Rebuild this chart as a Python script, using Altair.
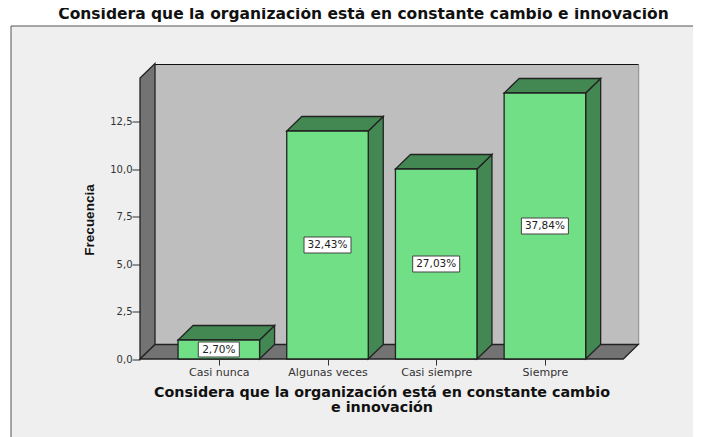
import altair as alt
import pandas as pd

categories = ["Casi nunca", "Algunas veces", "Casi siempre", "Siempre"]
frequencies = [1, 12, 10, 14]
percent_labels = ["2,70%", "32,43%", "27,03%", "37,84%"]
y_ticks = [0, 2.5, 5, 7.5, 10, 12.5]

TITLE = "Considera que la organización está en constante cambio e innovación"
XTITLE = ["Considera que la organización está en constante cambio", "e innovación"]

FONT_W = "DejaVu Sans"
FRONT, DARK, BACK, WALL, PANEL, EDGE = "#70DF85", "#438852", "#BEBEBE", "#737373", "#EFEFEF", "#222222"
SW = 1.3

# scale helpers: one x unit is one category slot, depth of the 3D box in data units
W, H = 498.7, 294.5
XMAX, YMAX = 4.588, 15.5
DX, DY = 0.138, 0.763
BAR0, BARW = 0.35, 0.75
FLOOR_X, WALL_Y = 4.446, 14.79

xs = alt.Scale(domain=[0, XMAX], nice=False, zero=False)
ys = alt.Scale(domain=[0, YMAX], nice=False, zero=False)

bars = pd.DataFrame({
    "name": categories, "v": frequencies, "pct": percent_labels,
    "l": [BAR0 + i for i in range(4)],
    "r": [BAR0 + BARW + i for i in range(4)],
    "c": [BAR0 + BARW / 2 + i for i in range(4)],
    "m": [v / 2 for v in frequencies],
})

side_rows, top_rows = [], []
for _, b in bars.iterrows():
    side_rows += [
        {"id": b["name"], "x": b["r"], "y": 0, "y2": b["v"]},
        {"id": b["name"], "x": b["r"] + DX, "y": DY, "y2": b["v"] + DY},
    ]
    top_rows += [
        {"id": b["name"], "y": b["v"], "x": b["l"], "x2": b["r"]},
        {"id": b["name"], "y": b["v"] + DY, "x": b["l"] + DX, "x2": b["r"] + DX},
    ]
sides = pd.DataFrame(side_rows)
tops = pd.DataFrame(top_rows)
left_wall = pd.DataFrame([
    {"x": 0, "y": 0, "y2": WALL_Y},
    {"x": DX, "y": DY, "y2": WALL_Y + DY},
])
floor = pd.DataFrame([
    {"y": 0, "x": 0, "x2": FLOOR_X},
    {"y": DY, "x": DX, "x2": FLOOR_X + DX},
])

tick_pos = [BAR0 + BARW / 2 + i for i in range(4)]
label_expr = "[" + ",".join(f"'{c}'" for c in categories) + "][round(datum.value - %s)]" % (BAR0 + BARW / 2)
AX_X = alt.Axis(
    values=tick_pos, labelExpr=label_expr, title=XTITLE, grid=False, domain=False, zindex=1,
    tickSize=6, tickColor="#333333", labelFont=FONT_W, labelFontSize=11, labelColor="#333333",
    labelPadding=1, labelFlush=False, labelOverlap=False,
    titleFont=FONT_W, titleFontSize=14.3, titleFontWeight="bold", titleColor="#111111",
    titleX=241.5, titleY=37.5, titleAlign="center", titleBaseline="alphabetic", titleLineHeight=14.5,
)
AX_Y = alt.Axis(
    values=y_ticks, labelExpr="replace(format(datum.value, '.1f'), '.', ',')", zindex=1,
    title="Frecuencia", grid=False, domain=False, tickSize=8, tickColor="#333333",
    labelFont=FONT_W, labelFontSize=10, labelColor="#333333", labelPadding=0,
    titleFont="Liberation Sans", titleFontSize=13.5, titleFontWeight="bold", titleColor="#111111",
    titleX=-47, titleY=155, titleAlign="center", titleBaseline="alphabetic",
)

X = lambda f="x": alt.X(f"{f}:Q", scale=xs, axis=AX_X)
Y = lambda f="y": alt.Y(f"{f}:Q", scale=ys, axis=AX_Y)

panel = alt.Chart(pd.DataFrame({"a": [0]})).mark_rect(
    fill=PANEL, stroke="#555555", strokeWidth=1
).encode(x=alt.value(-129), x2=alt.value(580), y=alt.value(-38.5), y2=alt.value(390))

title_text = alt.Chart(pd.DataFrame({"t": [TITLE]})).mark_text(
    font=FONT_W, fontSize=15.5, fontWeight="bold", color="#111111", baseline="alphabetic", align="center"
).encode(text="t:N", x=alt.value(223.5), y=alt.value(-45.5))

back = alt.Chart(pd.DataFrame({"x": [DX], "x2": [XMAX], "y": [DY], "y2": [YMAX]})).mark_rect(fill=BACK).encode(
    x=X(), x2="x2:Q", y=Y(), y2="y2:Q"
)
back_top = alt.Chart(pd.DataFrame({"x": [DX], "x2": [XMAX], "y": [YMAX]})).mark_rule(color="#111111", strokeWidth=1).encode(
    x=X(), x2="x2:Q", y=Y()
)
back_right = alt.Chart(pd.DataFrame({"x": [XMAX], "y": [DY], "y2": [YMAX]})).mark_rule(color="#8A8A8A", strokeWidth=1).encode(
    x=X(), y=Y(), y2="y2:Q"
)

wall = alt.Chart(left_wall).mark_area(fill=WALL, stroke=EDGE, strokeWidth=SW, opacity=1).encode(
    x=X(), y=Y(), y2="y2:Q"
)
floor_l = alt.Chart(floor).mark_area(orient="horizontal", fill=WALL, stroke=EDGE, strokeWidth=SW, opacity=1).encode(
    y=Y(), x=X(), x2="x2:Q"
)

side_l = alt.Chart(sides).mark_area(fill=DARK, stroke=EDGE, strokeWidth=SW, opacity=1).encode(
    x=X(), y=Y(), y2="y2:Q", detail="id:N"
)
top_l = alt.Chart(tops).mark_area(orient="horizontal", fill=DARK, stroke=EDGE, strokeWidth=SW, opacity=1).encode(
    y=Y(), x=X(), x2="x2:Q", detail="id:N"
)
front = alt.Chart(bars).mark_rect(fill=FRONT, stroke=EDGE, strokeWidth=SW).encode(
    x=X("l"), x2="r:Q", y=Y("v"), y2=alt.datum(0)
)

box_big = alt.Chart(bars[bars.v > 1]).mark_rect(
    fill="white", stroke="#444444", strokeWidth=1, width=47, height=16
).encode(x=X("c"), y=Y("m"))
box_small = alt.Chart(bars[bars.v <= 1]).mark_rect(
    fill="white", stroke="#444444", strokeWidth=1, width=41, height=15
).encode(x=X("c"), y=Y("m"))
labels = alt.Chart(bars).mark_text(
    font="DejaVu Sans", fontSize=10.5, color="#222222"
).encode(x=X("c"), y=Y("m"), text="pct:N")

chart = alt.layer(
    panel, title_text, back, back_top, back_right, wall, floor_l, side_l, top_l, front,
    box_big, box_small, labels,
).properties(
    width=W, height=H,
    padding={"left": 132, "top": 56.5, "right": 54.3, "bottom": 78},
    autosize=alt.AutoSizeParams(type="none"),
    background="white",
).configure_view(stroke=None)

chart.save("out.html", embed_options={"renderer": "svg", "actions": False})
